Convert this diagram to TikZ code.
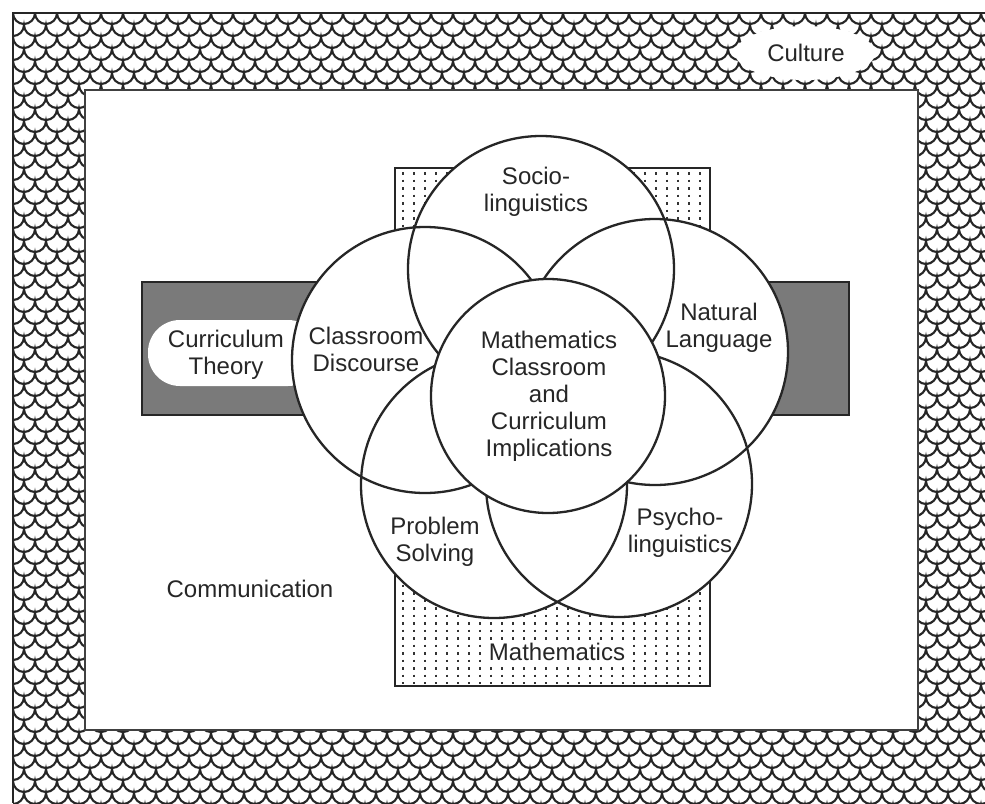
\documentclass[tikz,border=0pt]{standalone}
\usepackage{fontspec}
\setmainfont{Liberation Sans}
\begin{document}
\begin{tikzpicture}[x=1pt,y=-1pt,
  ring/.style={draw=black!85, line width=2.3pt},
  lbl/.style={font=\fontsize{24}{27}\selectfont, align=center, inner sep=0pt, text=black!85},
  scl/.style={draw=black!85, line width=2.1pt},
  dots/.style={draw=black!80, line width=1.8pt, dash pattern=on 2.5pt off 5pt}]
\useasboundingbox (0,0) rectangle (985,803);
\fill[white] (0,0) rectangle (985,803);
% Culture: scale pattern
\begin{scope}
\clip (13,13) rectangle (985,803);
\foreach \r in {0,...,67} {
  \pgfmathsetmacro\yy{13+12*\r}
  \pgfmathsetmacro\xx{mod(\r,2)*11-9}
  \draw[scl] (\xx,\yy) \foreach \c in {1,...,47} { arc[start angle=180,end angle=0,radius=11] };
}
\end{scope}
\draw[line width=1.8pt, black!85] (13,803) -- (13,13) -- (985,13);
% Communication: white field
\filldraw[fill=white, draw=black!75, line width=1.2pt] (85,90) rectangle (918,730);
% Culture label cloud
\fill[white] (805,53) ellipse [x radius=70, y radius=27];
% Curriculum theory band
\filldraw[fill=black!52, draw=black!85, line width=1.2pt] (142,282) rectangle (849,415);
\fill[white, rounded corners=32pt] (148,320) rectangle (320,386);
% Mathematics dotted rectangle
\filldraw[fill=white, draw=black!85, line width=1.4pt] (395,168) rectangle (710,686);
\foreach \i in {0,...,27} \draw[dots] (403+11*\i,172) -- (403+11*\i,684);
% Circles
\foreach \x/\y in {541/269, 425/360, 655/352, 494/485, 619/484}
  \fill[white] (\x,\y) circle [radius=133];
\foreach \x/\y in {541/269, 425/360, 655/352, 494/485, 619/484}
  \draw[ring] (\x,\y) circle [radius=133];
\filldraw[fill=white, ring] (548,396) circle [radius=117];
% Labels
\node[lbl] (culture) at (806,53) {Culture};
\node[lbl] (socio) at (536,192) {Socio-\\linguistics};
\node[lbl] (discourse) at (366,349) {Classroom\\Discourse};
\node[lbl] (natural) at (719,328) {Natural\\Language};
\node[lbl] (curric) at (226,355) {Curriculum\\Theory};
\node[lbl] (centre) at (549,396) {Mathematics\\Classroom\\and\\Curriculum\\Implications};
\node[lbl] (problem) at (435,542) {Problem\\Solving};
\node[lbl] (psycho) at (680,533) {Psycho-\\linguistics};
\node[lbl] (comm) at (250,589) {Communication};
\node[lbl, fill=white, inner sep=2pt] (maths) at (557,652) {Mathematics};
\end{tikzpicture}
\end{document}
